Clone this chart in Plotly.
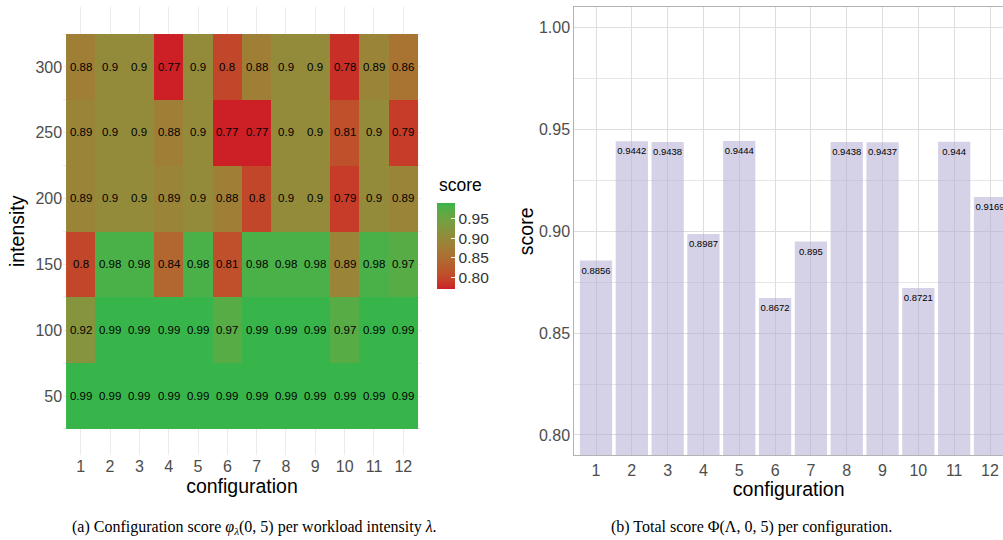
import plotly.graph_objects as go

# ---------------- data ----------------
configurations = list(range(1, 13))
intensities = [300, 250, 200, 150, 100, 50]
score_300 = [0.88, 0.9, 0.9, 0.77, 0.9, 0.8, 0.88, 0.9, 0.9, 0.78, 0.89, 0.86]
score_250 = [0.89, 0.9, 0.9, 0.88, 0.9, 0.77, 0.77, 0.9, 0.9, 0.81, 0.9, 0.79]
score_200 = [0.89, 0.9, 0.9, 0.89, 0.9, 0.88, 0.8, 0.9, 0.9, 0.79, 0.9, 0.89]
score_150 = [0.8, 0.98, 0.98, 0.84, 0.98, 0.81, 0.98, 0.98, 0.98, 0.89, 0.98, 0.97]
score_100 = [0.92, 0.99, 0.99, 0.99, 0.99, 0.97, 0.99, 0.99, 0.99, 0.97, 0.99, 0.99]
score_50 = [0.99, 0.99, 0.99, 0.99, 0.99, 0.99, 0.99, 0.99, 0.99, 0.99, 0.99, 0.99]
total_score = [0.8856, 0.9442, 0.9438, 0.8987, 0.9444, 0.8672,
               0.895, 0.9438, 0.9437, 0.8721, 0.944, 0.9169]
colorbar_ticks = [0.80, 0.85, 0.90, 0.95]
left_yticks = [50, 100, 150, 200, 250, 300]
right_yticks = [0.80, 0.85, 0.90, 0.95, 1.00]

z = [score_300, score_250, score_200, score_150, score_100, score_50]
ztext = [[f"{v:g}" for v in row] for row in z]

# ---------------- colour scale (Lab interpolation, like ggplot) ----------------
LOW = (204, 31, 38)
HIGH = (56, 181, 74)


def _lin(c):
    c = c / 255.0
    return c / 12.92 if c <= 0.04045 else ((c + 0.055) / 1.055) ** 2.4


def _gam(c):
    c = 12.92 * c if c <= 0.0031308 else 1.055 * c ** (1 / 2.4) - 0.055
    return max(0, min(255, round(c * 255)))


def rgb2lab(rgb):
    r, g, b = (_lin(v) for v in rgb)
    x = (0.4124 * r + 0.3576 * g + 0.1805 * b) / 0.95047
    y = (0.2126 * r + 0.7152 * g + 0.0722 * b) / 1.0
    zz = (0.0193 * r + 0.1192 * g + 0.9505 * b) / 1.08883
    f = lambda t: t ** (1 / 3) if t > 0.008856 else 7.787 * t + 16 / 116
    fx, fy, fz = f(x), f(y), f(zz)
    return (116 * fy - 16, 500 * (fx - fy), 200 * (fy - fz))


def lab2rgb(lab):
    L, a, b = lab
    fy = (L + 16) / 116
    fx = fy + a / 500
    fz = fy - b / 200
    finv = lambda t: t ** 3 if t ** 3 > 0.008856 else (t - 16 / 116) / 7.787
    x, y, zz = finv(fx) * 0.95047, finv(fy), finv(fz) * 1.08883
    r = 3.2406 * x - 1.5372 * y - 0.4986 * zz
    g = -0.9689 * x + 1.8758 * y + 0.0415 * zz
    bb = 0.0557 * x - 0.2040 * y + 1.0570 * zz
    return tuple(_gam(max(0, v)) for v in (r, g, bb))


lo, hi = rgb2lab(LOW), rgb2lab(HIGH)
colorscale = []
N = 20
for i in range(N + 1):
    t = i / N
    c = lab2rgb(tuple(lo[k] + (hi[k] - lo[k]) * t for k in range(3)))
    colorscale.append([t, f"rgb({c[0]},{c[1]},{c[2]})"])

W, H = 1003, 540
TICKC = "#4D4D4D"
FONT = "Liberation Sans, Arial, sans-serif"
SERIF = "Liberation Serif, Times New Roman, serif"

fig = go.Figure()

fig.add_trace(go.Heatmap(
    x=configurations, y=intensities, z=z, text=ztext,
    texttemplate="%{text}", textfont=dict(size=11.5, color="black", family=FONT),
    colorscale=colorscale, xgap=0, ygap=0, hoverinfo="skip",
    colorbar=dict(
        x=437 / W, xanchor="left", y=(H - 246) / H, yanchor="middle",
        len=86, lenmode="pixels", thickness=18, xpad=0, ypad=0,
        outlinewidth=0, tickvals=colorbar_ticks,
        ticktext=[f"{v:.2f}" for v in colorbar_ticks],
        ticks="inside", tickcolor="white", ticklen=4, tickwidth=1.2,
        tickfont=dict(size=15.5, color="#333333", family=FONT),
    ),
    xaxis="x", yaxis="y",
))

fig.add_trace(go.Bar(
    x=configurations, y=total_score, width=0.9,
    marker=dict(color="rgba(178,171,210,0.55)", line=dict(width=0)),
    hoverinfo="skip", xaxis="x2", yaxis="y2",
))

fig.add_trace(go.Scatter(
    x=configurations, y=total_score, mode="markers+text",
    marker=dict(size=8, color="rgba(0,0,0,0)"),
    text=[f"{v:g}" for v in total_score], textposition="bottom center",
    textfont=dict(size=9.5, color="black", family=FONT),
    hoverinfo="skip", cliponaxis=False, xaxis="x2", yaxis="y2",
))

ydom = [(H - 455.3) / H, (H - 7.3) / H]

fig.update_layout(
    width=W, height=H, margin=dict(l=0, r=0, t=0, b=0),
    paper_bgcolor="white", plot_bgcolor="white", showlegend=False,
    font=dict(family=FONT, color="black"),
    xaxis=dict(
        domain=[63.1 / W, 420.9 / W], range=[0.4, 12.6], anchor="y",
        tickvals=configurations, showgrid=True, gridcolor="#EBEBEB",
        zeroline=False, showline=False, ticks="",
        tickfont=dict(size=16, color=TICKC),
        title=dict(text="configuration", font=dict(size=19.5), standoff=4),
    ),
    yaxis=dict(
        domain=ydom, range=[5, 345.3], tickvals=left_yticks, anchor="x",
        showgrid=True, gridcolor="#EBEBEB", zeroline=False, showline=False,
        ticks="", tickfont=dict(size=16, color=TICKC),
        minor=dict(showgrid=True, gridcolor="#EBEBEB", tick0=25, dtick=50),
        title=dict(text="intensity", font=dict(size=19.5), standoff=5),
    ),
    xaxis2=dict(
        domain=[574.3 / W, 1.0], range=[0.394, 12.363], anchor="y2",
        tickvals=configurations, showgrid=True, gridcolor="#DEDEDE",
        zeroline=False, showline=True, mirror=True, linecolor="#B3B3B3",
        linewidth=1, ticks="", tickfont=dict(size=16, color=TICKC),
        title=dict(text="configuration", font=dict(size=19.5), standoff=2),
    ),
    yaxis2=dict(
        domain=ydom, range=[0.79, 1.01], tickvals=right_yticks, anchor="x2",
        ticktext=[f"{v:.2f}" for v in right_yticks],
        showgrid=True, gridcolor="#DEDEDE", zeroline=False,
        showline=True, mirror=True, linecolor="#B3B3B3", linewidth=1,
        ticks="", tickfont=dict(size=16, color=TICKC),
        minor=dict(showgrid=True, gridcolor="#E6E6E6", tick0=0.775, dtick=0.05),
        title=dict(text="score", font=dict(size=19.5), standoff=0),
    ),
    annotations=[
        dict(text="score", xref="paper", yref="paper", x=437 / W, y=1 - 185 / H,
             xanchor="left", yanchor="middle", showarrow=False,
             font=dict(size=17.5, color="black", family=FONT)),
        dict(text="(a) Configuration score <i>φ</i><sub><i>λ</i></sub>(0, 5) per workload intensity <i>λ</i>.",
             xref="paper", yref="paper", x=254 / W, y=1 - 527 / H,
             xanchor="center", yanchor="middle", showarrow=False,
             font=dict(size=16, color="black", family=SERIF)),
        dict(text="(b) Total score Φ(Λ, 0, 5) per configuration.",
             xref="paper", yref="paper", x=751 / W, y=1 - 527 / H,
             xanchor="center", yanchor="middle", showarrow=False,
             font=dict(size=16, color="black", family=SERIF)),
    ],
)

fig.write_html("out.html")
